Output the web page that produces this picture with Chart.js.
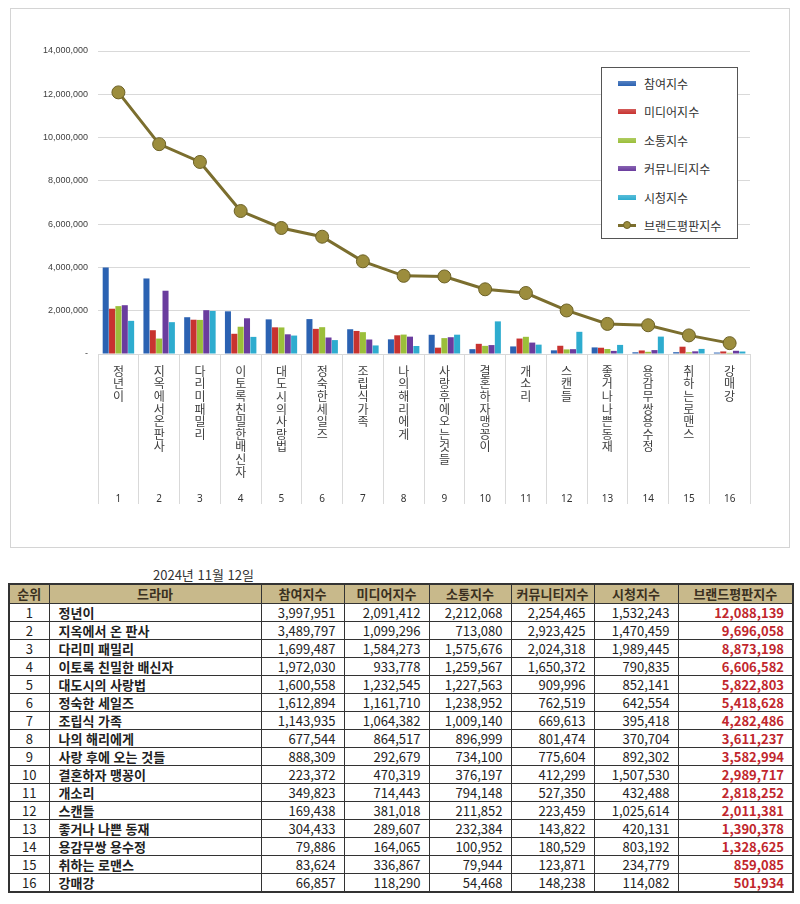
<!DOCTYPE html>
<html lang="ko">
<head>
<meta charset="utf-8">
<title>드라마 브랜드평판지수</title>
<script src="https://cdn.jsdelivr.net/npm/chart.js@4.4.1/dist/chart.umd.min.js"></script>
<style>
  body { margin: 0; background: #fff; font-family: "Noto Sans CJK KR", sans-serif; }
  .chart-box { position: absolute; left: 10px; top: 8px; width: 780px; height: 540px; border: 1px solid #d4d4d4; box-sizing: border-box; }
  .legend { position: absolute; left: 590px; top: 58px; width: 137px; height: 172px; border: 1px solid #555; box-sizing: border-box; background: #fff; padding-top: 1px; }
  .legend-item { display: flex; align-items: center; height: 28.5px; padding-left: 16px; font-size: 12px; color: #333; }
  .swatch { width: 18px; height: 5px; margin-right: 8px; flex: none; }
  .swatch.line { height: 3px; position: relative; }
  .swatch.line i { position: absolute; left: 5px; top: -3px; width: 8px; height: 8px; border-radius: 50%; box-sizing: border-box; }
  .date { position: absolute; left: 153px; top: 565px; font-size: 13px; color: #333; }
  table { position: absolute; left: 8px; top: 583px; width: 784px; border-collapse: collapse; border: 2px solid #333; table-layout: fixed; font-size: 13px; }
  th { background: #c8b98b; height: 18px; padding: 0; line-height: 16px; color: #3a3020; border: 1px solid #333; font-weight: bold; }
  td { height: 17px; padding: 0 8px; line-height: 16px; border: 1px solid #333; text-align: right; color: #222; }
  td.rank { text-align: center; padding: 0; }
  td.name { text-align: left; font-weight: bold; padding-left: 9px; }
  td.brand { color: #c1272d; font-weight: bold; }
</style>
</head>
<body>
<div class="chart-box">
  <canvas id="brandChart"></canvas>
  <div class="legend" id="legend"></div>
</div>
<div class="date">2024년 11월 12일</div>
<table id="rankTable"></table>

<script>
const names = ["정년이", "지옥에서 온 판사", "다리미 패밀리", "이토록 친밀한 배신자", "대도시의 사랑법", "정숙한 세일즈",
  "조립식 가족", "나의 해리에게", "사랑 후에 오는 것들", "결혼하자 맹꽁이", "개소리", "스캔들",
  "좋거나 나쁜 동재", "용감무쌍 용수정", "취하는 로맨스", "강매강"];
const ranks = ["1", "2", "3", "4", "5", "6", "7", "8", "9", "10", "11", "12", "13", "14", "15", "16"];

const participation = [3997951, 3489797, 1699487, 1972030, 1600558, 1612894, 1143935, 677544, 888309, 223372, 349823, 169438, 304433, 79886, 83624, 66857];
const media = [2091412, 1099296, 1584273, 933778, 1232545, 1161710, 1064382, 864517, 292679, 470319, 714443, 381018, 289607, 164065, 336867, 118290];
const communication = [2212068, 713080, 1575676, 1259567, 1227563, 1238952, 1009140, 896999, 734100, 376197, 794148, 211852, 232384, 100952, 79944, 54468];
const community = [2254465, 2923425, 2024318, 1650372, 909996, 762519, 669613, 801474, 775604, 412299, 527350, 223459, 143822, 180529, 123871, 148238];
const viewing = [1532243, 1470459, 1989445, 790835, 852141, 642554, 395418, 370704, 892302, 1507530, 432488, 1025614, 420131, 803192, 234779, 114082];
const brand = [12088139, 9696058, 8873198, 6606582, 5822803, 5418628, 4282486, 3611237, 3582994, 2989717, 2818252, 2011381, 1390378, 1328625, 859085, 501934];

const columns = ["순위", "드라마", "참여지수", "미디어지수", "소통지수", "커뮤니티지수", "시청지수", "브랜드평판지수"];
const colWidths = [40, 212, 83, 85, 82, 83, 84, 115];

const fmt = (n) => n.toLocaleString("en-US");

function barSet(label, data, color) {
  return { type: "bar", label, data, backgroundColor: color, borderWidth: 0, order: 1, xAxisID: "x",
    barPercentage: 0.95, categoryPercentage: 0.78 };
}

const chart = new Chart(document.getElementById("brandChart"), {
  data: {
    labels: names,
    datasets: [
      barSet("참여지수", participation, "#2b62b2"),
      barSet("미디어지수", media, "#c83330"),
      barSet("소통지수", communication, "#9bbf3a"),
      barSet("커뮤니티지수", community, "#6a3c9e"),
      barSet("시청지수", viewing, "#2eaccf"),
      {
        type: "line", label: "브랜드평판지수", data: brand, order: 0, xAxisID: "x",
        borderColor: "#7b6e2e", borderWidth: 3, tension: 0,
        pointRadius: 6.5, pointBackgroundColor: "#9c8d3d", pointBorderColor: "#6c6126", pointBorderWidth: 1
      }
    ]
  },
  options: {
    responsive: true,
    maintainAspectRatio: false,
    animation: false,
    layout: { padding: { top: 42, left: 22, right: 39, bottom: 44 } },
    plugins: { legend: { display: false }, tooltip: { enabled: false } },
    scales: {
      x: {
        type: "category", position: "bottom", weight: 0, offset: true,
        grid: { offset: true, drawOnChartArea: false, drawTicks: true, tickLength: 150, color: "#d9d9d9" },
        border: { color: "#d9d9d9" },
        ticks: {
          autoSkip: false, maxRotation: 0, padding: -139, color: "#404040",
          font: { family: "'Noto Sans CJK KR'", size: 12, lineHeight: 1.05 },
          callback: (value, index) => Array.from(names[index].replace(/ /g, ""))
        },
        afterFit: (scale) => { scale.height = 129; }
      },
      x2: {
        type: "category", labels: ranks, position: "bottom", weight: 1, offset: true,
        grid: { display: false }, border: { display: false },
        ticks: { autoSkip: false, maxRotation: 0, padding: 2, color: "#333", font: { family: "'Noto Sans'", size: 10 } },
        afterFit: (scale) => { scale.height = 20; }
      },
      y: {
        min: 0, max: 14000000,
        grid: { color: "#d9d9d9", drawTicks: false },
        border: { display: false },
        ticks: {
          stepSize: 2000000, padding: 10, color: "#404040",
          font: { family: "'Liberation Sans'", size: 9 },
          callback: (v) => (v === 0 ? "-" : fmt(v))
        }
      }
    }
  }
});

// legend box built from the chart datasets
const legendBox = document.getElementById("legend");
legendBox.innerHTML = chart.data.datasets.map((ds) => {
  const swatch = ds.type === "line"
    ? `<span class="swatch line" style="background:${ds.borderColor}"><i style="background:${ds.pointBackgroundColor};border:1px solid ${ds.pointBorderColor}"></i></span>`
    : `<span class="swatch" style="background:linear-gradient(${ds.backgroundColor}cc, ${ds.backgroundColor})"></span>`;
  return `<div class="legend-item">${swatch}${ds.label}</div>`;
}).join("");

// ranking table
const table = document.getElementById("rankTable");
table.innerHTML = `
  <colgroup>${colWidths.map((w) => `<col style="width:${w}px">`).join("")}</colgroup>
  <tr>${columns.map((c) => `<th>${c}</th>`).join("")}</tr>
  ${names.map((name, i) => `
    <tr>
      <td class="rank">${ranks[i]}</td>
      <td class="name">${name}</td>
      <td>${fmt(participation[i])}</td>
      <td>${fmt(media[i])}</td>
      <td>${fmt(communication[i])}</td>
      <td>${fmt(community[i])}</td>
      <td>${fmt(viewing[i])}</td>
      <td class="brand">${fmt(brand[i])}</td>
    </tr>`).join("")}
`;
</script>
</body>
</html>
